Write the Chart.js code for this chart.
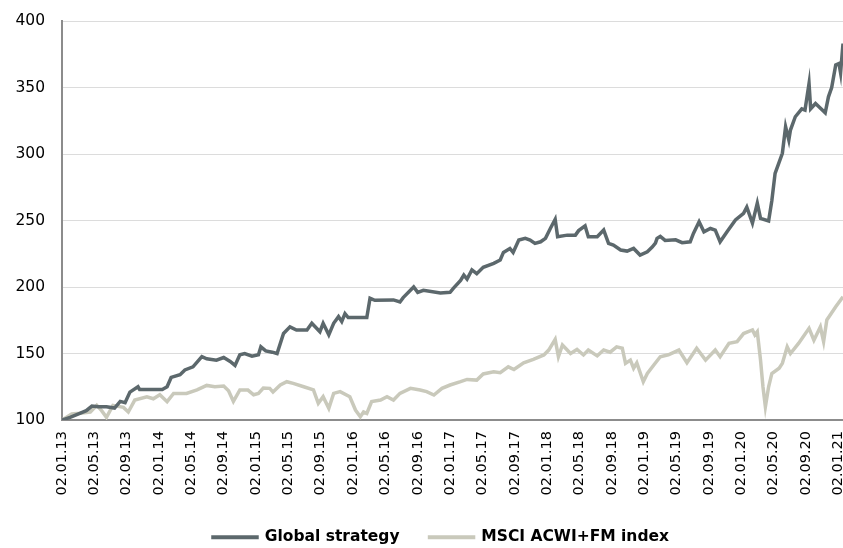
<!DOCTYPE html>
<html>
<head>
<meta charset="utf-8">
<script src="https://cdn.jsdelivr.net/npm/chart.js@4.4.1/dist/chart.umd.min.js"></script>
<style>
  html, body { margin: 0; padding: 0; background: #fff; overflow: hidden; }
  #wrap { width: 843px; height: 555px; }
</style>
</head>
<body>
<div id="wrap"><canvas id="perf"></canvas></div>
<script>
// x is months since 02.01.13
const tickLabels = [
  "02.01.13", "02.05.13", "02.09.13", "02.01.14", "02.05.14", "02.09.14",
  "02.01.15", "02.05.15", "02.09.15", "02.01.16", "02.05.16", "02.09.16",
  "02.01.17", "02.05.17", "02.09.17", "02.01.18", "02.05.18", "02.09.18",
  "02.01.19", "02.05.19", "02.09.19", "02.01.20", "02.05.20", "02.09.20",
  "02.01.21"
];

const stratMonths = [0, 1, 2.2, 3, 3.7, 4.5, 5.5, 6.5, 7.2, 7.8, 8.4, 9.4, 9.6, 11, 12.4, 13, 13.5, 14.6, 15.2, 16.2,
  17.3, 17.9, 19.1, 20, 20.8, 21.4, 22, 22.6, 23.5, 24.3, 24.6, 25.2, 26, 26.6, 27.4, 28.2, 29, 30.3, 30.9, 31.9,
  32.3, 33, 33.6, 34.2, 34.6, 35, 35.4, 37.7, 38.1, 38.7, 41, 41.8, 42.2, 43.5, 44, 44.7, 46.8, 48, 48.4, 49.3,
  49.7, 50.1, 50.7, 51.3, 52.1, 53.4, 54.2, 54.6, 55.4, 55.8, 56.5, 57.3, 57.9, 58.5, 59.2, 59.8, 60.4, 61, 61.3, 62.5,
  63.5, 63.9, 64.7, 65.1, 66.2, 67, 67.6, 68.2, 69.1, 69.9, 70.7, 71.5, 72.4, 73, 73.4, 73.6, 74, 74.6, 75.9, 76.7,
  77.7, 78.1, 78.8, 79.4, 80.2, 80.8, 81.4, 82.3, 83.3, 84.3, 84.7, 85.4, 86, 86.4, 87.4, 87.8, 88.2, 88.65, 89.1, 89.5,
  89.9, 90.1, 90.7, 91.5, 91.9, 92.4, 92.6, 93.2, 94.4, 94.8, 95.2, 95.7, 96.1, 96.3, 96.6];
const stratValues = [100, 102, 105, 107, 110.5, 110, 110, 109, 114, 113, 121, 125, 123, 123, 123, 125, 132, 134, 137.6, 140,
  147.6, 146, 145, 147, 144, 141, 149, 150, 148, 149, 155, 152, 151, 150, 165, 170, 167.7, 167.7, 172.7, 166.4,
  172.7, 164, 172.7, 177.7, 174, 180, 177, 177, 191.5, 190, 190.3, 188.7, 192, 200, 196, 197.5, 195.5, 196, 199, 205,
  209, 206, 212.8, 210, 214.8, 217.8, 220.3, 226, 229, 226, 235.3, 236.6, 235.3, 232.8, 234, 236.6, 244, 250.9, 237.8, 239,
  239, 242.4, 245.9, 237.8, 237.8, 242.8, 232.8, 231.5, 227.8, 227, 229, 224, 226.5, 230, 233, 236.6, 238, 235, 235.5, 233.3,
  234, 240.3, 249, 241.5, 244, 242.8, 234, 242, 250.4, 255.4, 260, 248, 263, 251.6, 249.6, 265, 285.5, 293, 300.5, 320.5,
  310.5, 318, 328, 334, 333, 353, 334, 338, 331, 343, 350, 367, 368, 361, 383];

const indexMonths = [0, 1.2, 2.2, 3.5, 4.3, 4.9, 5.5, 6.3, 7.6, 8.2, 9, 10.5, 11.3, 12.1, 13, 13.8, 15.4, 16.7, 17.9, 18.9,
  20, 20.6, 21.2, 22, 23, 23.7, 24.3, 24.9, 25.7, 26.1, 27, 27.8, 28.6, 29.9, 31.1, 31.7, 32.3, 33, 33.6, 34.4,
  35.6, 36.3, 36.9, 37.3, 37.7, 38.3, 39.4, 40.2, 41, 41.8, 43.1, 44.3, 45.1, 46, 47, 48, 49.3, 50.1, 51.3, 52.1,
  53.4, 54.2, 55.2, 55.9, 57.1, 58.3, 59.6, 60.2, 61, 61.4, 61.9, 62.9, 63.7, 64.5, 65.1, 66.2, 67, 67.8, 68.6, 69.3,
  69.7, 70.3, 70.7, 71.1, 71.9, 72.4, 73.2, 74, 75, 76.3, 77.3, 78.5, 79.6, 80.8, 81.4, 82.5, 83.5, 84.3, 85.4, 85.7,
  86, 86.4, 86.7, 87, 87.4, 87.8, 88.7, 89.1, 89.7, 90.1, 91.1, 92.4, 93, 93.8, 94.2, 94.6, 95.7, 96.6];
const indexValues = [100, 104.5, 105, 106, 111, 107, 102, 111, 109.5, 106, 115, 117.5, 116, 119, 113.8, 120, 120, 122.6, 126, 125,
  125.5, 122, 114, 122.6, 122.5, 119, 120, 124, 123.8, 121, 126.3, 128.8, 127.5, 125, 122.6, 112.5, 117.5, 108.8, 120, 121.3,
  117.5, 107.5, 102.5, 106, 105, 113.8, 115, 117.5, 115, 120, 123.8, 122.6, 121.3, 118.8, 123.8, 126.3, 128.8, 130.5, 130, 134.6,
  136.3, 135.6, 140, 138, 143, 145.6, 148.9, 152.6, 160.6, 147.6, 156.4, 150, 153, 148.9, 152.6, 148.2, 152.6, 151, 155, 154,
  142.6, 145, 138.9, 143, 128.8, 135, 141.4, 147.6, 149, 152.6, 143, 153.9, 145, 152.6, 147.6, 157.6, 158.9, 165, 167.7, 164,
  166.4, 145, 125, 110, 125, 135, 138.9, 142.6, 155, 150, 157.6, 168.9, 160, 170, 158.9, 175.2, 185.2, 192.7];

const stratColor = '#5c686c';
const indexColor = '#c9c9bb';

function toPoints(xs, ys) {
  return xs.map((x, i) => ({ x: x, y: ys[i] }));
}

// nudges the legend a little to the right, like the original
const legendShift = {
  id: 'legendShift',
  afterLayout(chart) {
    if (chart.legend) {
      chart.legend.left += 13;
      chart.legend.right += 13;
    }
  }
};

new Chart(document.getElementById('perf'), {
  type: 'line',
  data: {
    datasets: [{
      label: 'Global strategy',
      data: toPoints(stratMonths, stratValues),
      borderColor: stratColor,
      backgroundColor: stratColor,
      borderWidth: 3.5,
      pointRadius: 0,
      tension: 0
    }, {
      label: 'MSCI ACWI+FM index',
      data: toPoints(indexMonths, indexValues),
      borderColor: indexColor,
      backgroundColor: indexColor,
      borderWidth: 3.5,
      pointRadius: 0,
      tension: 0
    }]
  },
  options: {
    responsive: true,
    maintainAspectRatio: false,
    animation: false,
    layout: { padding: { left: 13, top: 21, right: 0, bottom: 0 } },
    scales: {
      x: {
        type: 'linear',
        min: 0,
        max: 96.6,
        grid: { display: false, drawTicks: false },
        border: { color: '#8c8c8c', width: 2 },
        ticks: {
          stepSize: 4,
          includeBounds: false,
          autoSkip: false,
          maxRotation: 90,
          minRotation: 90,
          padding: 11,
          color: '#000',
          font: { family: 'DejaVu Sans', size: 14.5 },
          callback: (v) => tickLabels[Math.round(v / 4)]
        },
        afterFit(scale) {
          scale.height = 79.5;
          scale.paddingLeft = 0;
          scale.paddingRight = 0;
        }
      },
      y: {
        min: 100,
        max: 400,
        grid: { color: '#dcdcdc', lineWidth: 1, drawTicks: false },
        border: { color: '#8c8c8c', width: 2 },
        ticks: {
          stepSize: 50,
          padding: 17,
          color: '#000',
          font: { family: 'DejaVu Sans', size: 15.5 }
        },
        afterFit(scale) {
          scale.width = 49;
          scale.paddingTop = 0;
          scale.paddingBottom = 0;
        }
      }
    },
    plugins: {
      tooltip: { enabled: false },
      legend: {
        position: 'bottom',
        labels: {
          boxWidth: 44,
          boxHeight: 0.5,
          padding: 30,
          color: '#000',
          font: { family: 'DejaVu Sans', size: 15.5, weight: 'bold' }
        }
      }
    }
  },
  plugins: [legendShift]
});
</script>
</body>
</html>
